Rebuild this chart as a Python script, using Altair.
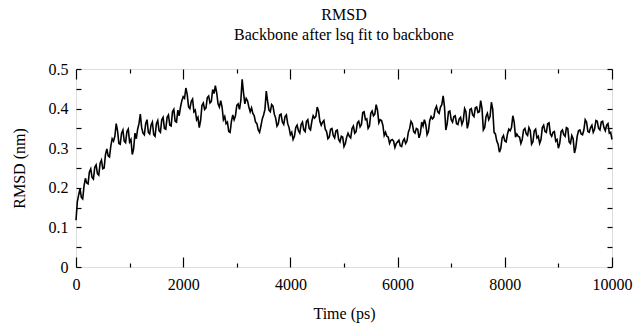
import altair as alt
import pandas as pd

# RMSD values (nm) at t = 0, 50, 100, ... 10000 ps
rmsd = [
    0.118, 0.182, 0.176, 0.205, 0.212, 0.240, 0.226, 0.252, 0.236, 0.262,
    0.248, 0.284, 0.281, 0.306, 0.318, 0.362, 0.312, 0.338, 0.318, 0.342,
    0.316, 0.284, 0.338, 0.348, 0.386, 0.338, 0.362, 0.340, 0.358, 0.334,
    0.362, 0.344, 0.372, 0.350, 0.378, 0.358, 0.392, 0.368, 0.396, 0.404,
    0.430, 0.452, 0.404, 0.418, 0.392, 0.372, 0.352, 0.408, 0.398, 0.428,
    0.414, 0.448, 0.458, 0.412, 0.420, 0.372, 0.362, 0.342, 0.368, 0.372,
    0.408, 0.398, 0.474, 0.412, 0.420, 0.392, 0.388, 0.366, 0.346, 0.356,
    0.384, 0.444, 0.396, 0.410, 0.386, 0.356, 0.384, 0.366, 0.380, 0.362,
    0.334, 0.322, 0.352, 0.344, 0.360, 0.346, 0.368, 0.350, 0.368, 0.376,
    0.404, 0.368, 0.366, 0.348, 0.324, 0.348, 0.332, 0.344, 0.322, 0.330,
    0.304, 0.328, 0.330, 0.350, 0.338, 0.364, 0.354, 0.390, 0.372, 0.350,
    0.388, 0.382, 0.410, 0.364, 0.370, 0.332, 0.330, 0.312, 0.322, 0.302,
    0.316, 0.306, 0.318, 0.312, 0.340, 0.368, 0.342, 0.350, 0.326, 0.366,
    0.372, 0.334, 0.370, 0.374, 0.398, 0.392, 0.404, 0.432, 0.346, 0.392,
    0.372, 0.380, 0.362, 0.374, 0.360, 0.400, 0.350, 0.398, 0.384, 0.402,
    0.390, 0.420, 0.346, 0.380, 0.372, 0.416, 0.340, 0.318, 0.290, 0.326,
    0.318, 0.336, 0.344, 0.382, 0.328, 0.330, 0.312, 0.346, 0.336, 0.352,
    0.310, 0.344, 0.326, 0.312, 0.352, 0.342, 0.362, 0.336, 0.340, 0.318,
    0.300, 0.342, 0.334, 0.352, 0.316, 0.332, 0.288, 0.330, 0.346, 0.334,
    0.372, 0.342, 0.352, 0.340, 0.370, 0.350, 0.366, 0.352, 0.358, 0.338,
    0.322,
]
# RMSD values (nm) in between, at t = 25, 75, ... 9975 ps
rmsd_mid = [
    0.165, 0.198, 0.172, 0.224, 0.210, 0.248, 0.222, 0.258, 0.232, 0.270,
    0.250, 0.298, 0.278, 0.324, 0.330, 0.344, 0.310, 0.346, 0.314, 0.348,
    0.322, 0.298, 0.324, 0.362, 0.352, 0.334, 0.372, 0.336, 0.366, 0.330,
    0.370, 0.340, 0.378, 0.348, 0.384, 0.356, 0.398, 0.366, 0.382, 0.420,
    0.426, 0.436, 0.400, 0.424, 0.396, 0.378, 0.370, 0.414, 0.402, 0.432,
    0.418, 0.438, 0.440, 0.404, 0.404, 0.380, 0.366, 0.340, 0.384, 0.382,
    0.412, 0.420, 0.440, 0.426, 0.404, 0.402, 0.382, 0.362, 0.340, 0.374,
    0.398, 0.418, 0.392, 0.406, 0.376, 0.362, 0.386, 0.360, 0.384, 0.352,
    0.340, 0.330, 0.358, 0.338, 0.366, 0.342, 0.372, 0.346, 0.382, 0.380,
    0.394, 0.358, 0.370, 0.342, 0.328, 0.350, 0.326, 0.346, 0.316, 0.328,
    0.312, 0.338, 0.326, 0.356, 0.342, 0.368, 0.360, 0.392, 0.374, 0.356,
    0.394, 0.386, 0.396, 0.372, 0.358, 0.340, 0.328, 0.320, 0.318, 0.312,
    0.320, 0.304, 0.324, 0.318, 0.350, 0.362, 0.338, 0.348, 0.338, 0.356,
    0.360, 0.342, 0.380, 0.378, 0.406, 0.388, 0.410, 0.404, 0.362, 0.394,
    0.366, 0.382, 0.360, 0.378, 0.370, 0.392, 0.364, 0.400, 0.380, 0.404,
    0.392, 0.400, 0.352, 0.388, 0.380, 0.398, 0.336, 0.310, 0.300, 0.332,
    0.316, 0.348, 0.352, 0.366, 0.336, 0.328, 0.322, 0.350, 0.332, 0.344,
    0.316, 0.348, 0.330, 0.322, 0.358, 0.340, 0.364, 0.330, 0.342, 0.322,
    0.312, 0.346, 0.330, 0.350, 0.312, 0.324, 0.302, 0.344, 0.336, 0.346,
    0.366, 0.340, 0.358, 0.348, 0.368, 0.346, 0.368, 0.344, 0.362, 0.340,
]
time_ps = [50 * i for i in range(len(rmsd))]
time_mid = [25 + 50 * i for i in range(len(rmsd_mid))]

x_major = [0, 2000, 4000, 6000, 8000, 10000]
x_minor = [1000, 3000, 5000, 7000, 9000]
y_ticks = [0, 0.05, 0.1, 0.15, 0.2, 0.25, 0.3, 0.35, 0.4, 0.45, 0.5]
y_labels = [0, 0.1, 0.2, 0.3, 0.4, 0.5]

df = pd.concat([
    pd.DataFrame({"t": time_ps, "rmsd": rmsd}),
    pd.DataFrame({"t": time_mid, "rmsd": rmsd_mid}),
]).sort_values("t").reset_index(drop=True)

FONT = "Liberation Serif"
xscale = alt.Scale(domain=[0, 10000], nice=False)
yscale = alt.Scale(domain=[0, 0.5], nice=False)

base = alt.Chart(df)

main = base.mark_line(color="black", strokeWidth=1.6).encode(
    x=alt.X("t:Q", scale=xscale, axis=alt.Axis(
        orient="bottom", values=x_major, title="Time (ps)", ticks=False,
        domain=False, grid=False, labelPadding=9, titlePadding=13,
        labelFont=FONT, titleFont=FONT, labelFontSize=16, titleFontSize=16,
        titleFontWeight="normal", labelColor="black", titleColor="black",
        format="d", labelFlush=False)),
    y=alt.Y("rmsd:Q", scale=yscale, axis=alt.Axis(
        orient="left", values=y_labels, title="RMSD (nm)", ticks=False,
        domain=False, grid=False, labelPadding=8, titlePadding=21,
        labelFont=FONT, titleFont=FONT, labelFontSize=16, titleFontSize=16,
        titleFontWeight="normal", labelColor="black", titleColor="black",
        format="~g", labelFlush=False)),
)


def tick_layer(xorient, xvals, xsize, yorient):
    xa = alt.Axis(orient=xorient, values=xvals, tickSize=xsize, offset=-xsize,
                  labels=False, domain=False, grid=False, title=None,
                  tickColor="black", tickWidth=1.2)
    if yorient is None:
        ya = None
    else:
        ya = alt.Axis(orient=yorient, values=y_ticks, tickSize=5, offset=-5,
                      labels=False, domain=False, grid=False, title=None,
                      tickColor="black", tickWidth=1.2)
    return base.mark_line(opacity=0).encode(
        x=alt.X("t:Q", scale=xscale, axis=xa),
        y=alt.Y("rmsd:Q", scale=yscale, axis=ya),
    )


chart = alt.layer(
    main,
    tick_layer("bottom", x_major, 10, "left"),
    tick_layer("bottom", x_minor, 4, "right"),
    tick_layer("top", x_major, 10, None),
    tick_layer("top", x_minor, 4, None),
).resolve_axis(x="independent", y="independent").properties(
    width=536,
    height=198,
    title=alt.TitleParams(
        text=["RMSD", "Backbone after lsq fit to backbone"],
        font=FONT, fontSize=16, fontWeight="normal", color="black",
        anchor="middle", lineHeight=20, offset=18,
    ),
    autosize=alt.AutoSizeParams(type="none"),
    padding={"left": 76, "top": 69, "right": 26, "bottom": 61},
).configure_view(stroke="black", strokeWidth=1.5).configure(background="white")

chart.save("out.html", embed_options={"renderer": "svg", "actions": False})
